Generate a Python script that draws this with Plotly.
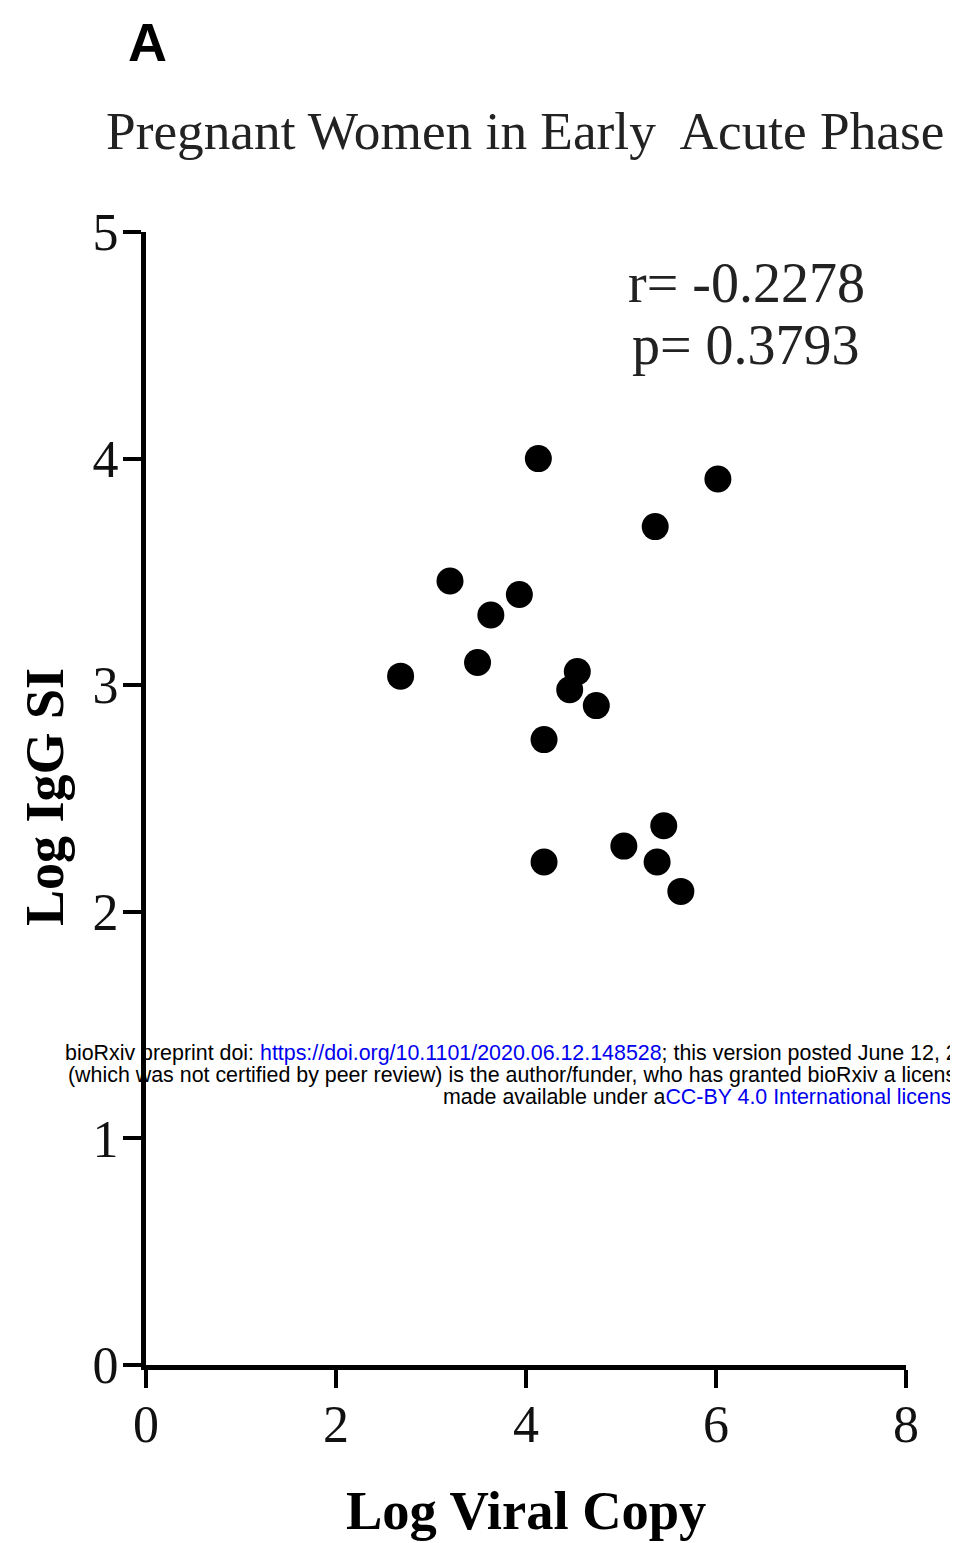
import plotly.graph_objects as go

# Data
log_viral_copy = [4.13, 6.02, 5.36, 3.20, 3.93, 3.63, 3.49, 2.68, 4.54, 4.46, 4.74, 4.19, 5.45, 5.03, 5.38, 4.19, 5.63]
log_igg_si = [4.00, 3.91, 3.70, 3.46, 3.40, 3.31, 3.10, 3.04, 3.06, 2.98, 2.91, 2.76, 2.38, 2.29, 2.22, 2.22, 2.09]
x_ticks = [0, 2, 4, 6, 8]
y_ticks = [0, 1, 2, 3, 4, 5]

# page body has an 8px margin; lay the figure out in page pixels minus that
OFF = 8
W, H = 958 - 2 * OFF, 1543 - OFF
L, T = 146 - OFF, 232 - OFF
R = W - (906 - OFF)
B = H - (1365 - OFF)
pw, ph = W - L - R, H - T - B


def px(xpix):
    return (xpix - OFF - L) / pw


def py(ypix):
    return (H - B - (ypix - OFF)) / ph


serif = "Liberation Serif"
sans = "Liberation Sans"

fig = go.Figure()
fig.add_trace(go.Scatter(
    x=log_viral_copy, y=log_igg_si, mode="markers",
    marker=dict(size=27, color="black", line=dict(width=0)),
    showlegend=False, hoverinfo="x+y",
))

axis_common = dict(
    showline=True, linewidth=5, linecolor="black",
    ticks="outside", ticklen=18, tickwidth=4, tickcolor="black",
    showgrid=False, zeroline=False,
    tickfont=dict(family=serif, size=52, color="#111"),
)

fig.update_layout(
    width=W, height=H,
    margin=dict(l=L, r=R, t=T, b=B),
    paper_bgcolor="white", plot_bgcolor="white",
    xaxis=dict(range=[0, 8], tickvals=x_ticks, ticklabelstandoff=-8, **axis_common),
    yaxis=dict(range=[0, 5], tickvals=y_ticks, ticklabelstandoff=-6, **axis_common),
)


def note(text, xx, yy, size, family=serif, color="#111", xanchor="center", **kw):
    return dict(text=text, x=px(xx), y=py(yy), xref="paper", yref="paper",
                xanchor=xanchor, yanchor="middle", showarrow=False,
                font=dict(family=family, size=size, color=color), **kw)


ann = [
    note("<b>A</b>", 147, 42, 54, family=sans, color="black"),
    note("Pregnant Women in Early\u00a0 Acute Phase", 525, 132, 53.3, color="#222"),
    note("r= -0.2278", 746, 283, 56, color="#222"),
    note("p= 0.3793", 746, 345, 56, color="#222"),
    note("<b>Log Viral Copy</b>", 526, 1510, 54.5, color="black"),
    note("<b>Log IgG SI</b>", 45, 797, 54, color="black", textangle=-90),
]

blue = "#0000ee"
wm_lines = [
    (63, 1053, "bioRxiv preprint doi: <span style='color:%s'>https://doi.org/10.1101/2020.06.12.148528</span>; this version posted June 12, 20" % blue),
    (66, 1075, "(which was not certified by peer review) is the author/funder, who has granted bioRxiv a license"),
    (441, 1097, "made available under a<span style='color:%s'>CC-BY 4.0 International license</span>" % blue),
]
for xx, yy, txt in wm_lines:
    ann.append(note(txt, xx, yy, 21.4, family=sans, color="black", xanchor="left"))

fig.update_layout(annotations=ann)
fig.write_html("out.html")
